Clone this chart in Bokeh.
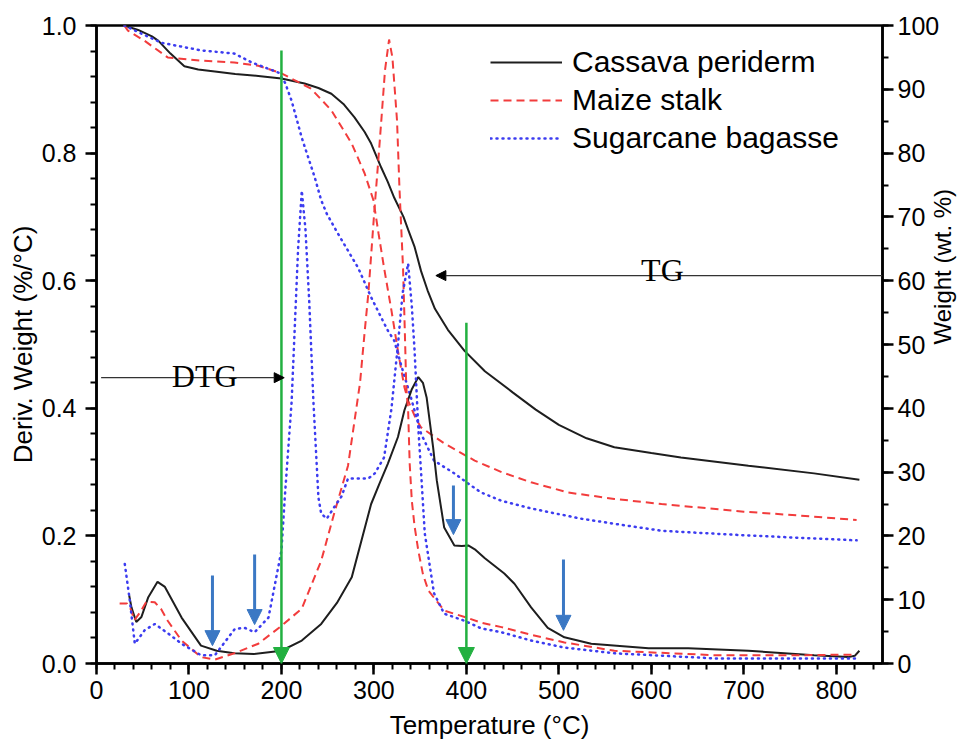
import math
from bokeh.plotting import figure
from bokeh.models import (Range1d, LinearAxis, SingleIntervalTicker, PrintfTickFormatter,
                          Arrow, NormalHead, Label, Legend, LegendItem)
from bokeh.embed import file_html
from bokeh.resources import INLINE

# ---------------- data ----------------
# TG curves (right axis, wt. %)
T_cp_tg = [30, 45, 60, 67, 80, 95, 110, 128, 150, 175, 200, 225, 240, 254, 267, 279, 290, 297, 308, 315,
           322, 332, 337, 344, 351, 358, 366, 380, 398, 420, 450, 475, 500, 530, 560, 600, 632, 705, 776, 825]
W_cp_tg = [100, 99.3, 98.3, 97.6, 95.6, 93.6, 93.1, 92.8, 92.4, 92.1, 91.7, 90.9, 90.2, 89.3, 87.7, 85.6, 83.3, 81.5, 77.7, 75.5,
           73.0, 70.0, 68.0, 65.3, 61.5, 58.5, 55.6, 52.3, 49.0, 45.8, 42.5, 39.8, 37.4, 35.3, 33.9, 33.0, 32.3, 31.0, 29.8, 28.8]

T_ms_tg = [30, 34, 52, 77, 113, 149, 175, 200, 232, 254, 276, 290, 299.5, 305, 311, 319, 326, 333, 337, 345,
           351, 376, 409, 438, 470, 510, 560, 611, 700, 760, 822]
W_ms_tg = [100, 99.2, 97.6, 95.0, 94.5, 94.2, 93.7, 92.5, 90.1, 86.7, 81.5, 76.8, 72.6, 67.4, 62.0, 55.3, 49.0, 43.3, 41.2, 38.5,
           37.0, 34.5, 31.8, 30.0, 28.4, 26.8, 25.8, 25.0, 23.8, 23.2, 22.5]

T_sb_tg = [30, 49, 70, 113, 149, 168, 197, 204, 211, 222, 236, 243, 249, 261, 283, 297, 308, 315, 322, 330,
           340, 351, 365, 387, 402, 416, 438, 470, 524, 560, 611, 700, 760, 822]
W_sb_tg = [100, 98.7, 97.3, 96.1, 95.6, 94.2, 92.6, 91.0, 88.2, 82.4, 76.2, 72.6, 70.5, 67.4, 62.0, 57.4, 54.2, 52.2, 50.6, 46.5,
           41.7, 36.0, 31.8, 29.8, 28.2, 26.8, 25.5, 24.3, 22.7, 21.9, 20.8, 20.1, 19.7, 19.3]

# DTG curves (left axis, %/°C)
T_cp_d = [35.3, 37.8, 43, 48.6, 56, 66, 74, 92, 113, 130, 149, 170, 200, 222, 243, 260, 276, 297, 306, 315,
          326, 333, 341, 348, 353, 357, 364, 368, 376, 387, 395, 402, 410, 420, 441, 452, 470, 488, 506, 535,
          597, 640, 705, 776, 813, 820, 825]
V_cp_d = [0.107, 0.088, 0.065, 0.073, 0.104, 0.128, 0.12, 0.072, 0.028, 0.02, 0.016, 0.015, 0.020, 0.036, 0.062, 0.095, 0.135, 0.25, 0.282, 0.313,
          0.355, 0.397, 0.43, 0.449, 0.44, 0.417, 0.339, 0.287, 0.213, 0.185, 0.184, 0.185, 0.178, 0.165, 0.141, 0.125, 0.088, 0.056, 0.041, 0.031,
          0.024, 0.024, 0.020, 0.013, 0.010, 0.012, 0.020]

T_ms_d = [25, 33, 37, 41, 47, 54, 63, 70, 77, 92, 113, 128, 149, 175, 200, 222, 243, 257, 265, 272,
          279, 285, 290, 294, 300.5, 304.5, 308, 312, 316.4, 320, 325, 327.6, 331.5, 333.5, 335, 337, 338.7, 341, 344, 348,
          353, 359, 376, 402, 416, 438, 470, 506, 560, 668, 760, 822]
V_ms_d = [0.094, 0.094, 0.085, 0.068, 0.08, 0.097, 0.096, 0.085, 0.067, 0.036, 0.010, 0.006, 0.016, 0.031, 0.059, 0.086, 0.161, 0.235, 0.275, 0.31,
          0.38, 0.44, 0.52, 0.58, 0.71, 0.784, 0.851, 0.93, 0.978, 0.95, 0.851, 0.746, 0.62, 0.517, 0.433, 0.397, 0.313, 0.255, 0.215, 0.177,
          0.14, 0.114, 0.083, 0.071, 0.064, 0.057, 0.045, 0.033, 0.020, 0.013, 0.013, 0.014]

T_sb_d = [30.6, 36, 41.4, 52, 63, 77.5, 92, 113, 128, 149.5, 160, 171, 186, 200, 203.6, 211, 218, 222, 226, 230,
          234.6, 240, 243, 249, 257, 265, 272, 283, 294, 301, 311, 319, 326, 331, 337, 341, 344, 348, 351, 355,
          365, 376, 398, 416, 438, 470, 506, 560, 668, 822]
V_sb_d = [0.156, 0.099, 0.031, 0.052, 0.062, 0.047, 0.031, 0.013, 0.013, 0.054, 0.056, 0.049, 0.072, 0.177, 0.26, 0.41, 0.65, 0.741, 0.68, 0.569,
          0.41, 0.26, 0.235, 0.227, 0.245, 0.262, 0.29, 0.29, 0.29, 0.298, 0.323, 0.40, 0.50, 0.58, 0.627, 0.56, 0.49, 0.37, 0.30, 0.204,
          0.11, 0.078, 0.067, 0.055, 0.049, 0.036, 0.025, 0.016, 0.008, 0.008]

series_names = ["Cassava periderm", "Maize stalk", "Sugarcane bagasse"]

# annotation arrows
green_x = [200, 400]
green_top = [0.961, 0.534]
blue_x = [125.4, 171, 386, 505]
blue_top = [0.138, 0.171, 0.279, 0.163]
blue_tip = [0.028, 0.061, 0.202, 0.052]
dtg_arrow = (5, 203, 0.448)
tg_arrow = (850, 367, 0.608)

# ---------------- figure ----------------
BLACK = "#1e1e1e"
RED = "#f23c3c"
BLUE = "#3c3cf0"
GREEN = "#22b040"
ARROWBLUE = "#3b78c4"
FONT = "Liberation Sans"

p = figure(width=972, height=746, x_range=Range1d(0, 850), y_range=Range1d(0, 1),
           output_backend="svg", toolbar_location=None,
           min_border_left=96, min_border_right=90, min_border_top=25, min_border_bottom=83)
p.extra_y_ranges = {"tg": Range1d(0, 100)}
p.grid.visible = False
p.outline_line_color = "black"
p.outline_line_width = 2.5
p.background_fill_color = "white"
p.border_fill_color = "white"


def style_axis(ax):
    ax.axis_line_color = "black"
    ax.axis_line_width = 2.5
    ax.major_tick_line_color = "black"
    ax.minor_tick_line_color = "black"
    ax.major_tick_line_width = 2.5
    ax.minor_tick_line_width = 2
    ax.major_tick_in = 0
    ax.major_tick_out = 11
    ax.minor_tick_in = 0
    ax.minor_tick_out = 6
    ax.major_label_text_font = FONT
    ax.major_label_text_font_size = "25px"
    ax.major_label_text_color = "black"
    ax.major_label_standoff = 8
    ax.axis_label_text_font = FONT
    ax.axis_label_text_font_size = "26px"
    ax.axis_label_text_font_style = "normal"
    ax.axis_label_text_color = "black"


xax = p.xaxis[0]
xax.ticker = SingleIntervalTicker(interval=100, num_minor_ticks=5)
xax.axis_label = "Temperature (°C)"
style_axis(xax)
xax.major_label_standoff = 6
xax.axis_label_standoff = 8

yax = p.yaxis[0]
yax.ticker = SingleIntervalTicker(interval=0.2, num_minor_ticks=5)
yax.formatter = PrintfTickFormatter(format="%.1f")
yax.axis_label = "Deriv. Weight (%/°C)"
style_axis(yax)
yax.major_label_standoff = 9
yax.axis_label_standoff = 1

rax = LinearAxis(y_range_name="tg", ticker=SingleIntervalTicker(interval=10, num_minor_ticks=2))
rax.axis_label = "Weight (wt. %)"
style_axis(rax)
rax.major_label_standoff = 4
rax.axis_label_standoff = 0
rax.axis_label_text_font_size = "24px"
if "axis_label_orientation" in rax.properties():
    rax.axis_label_orientation = math.pi / 2
p.add_layout(rax, "right")

# ---------------- curves ----------------
r_cp = p.line(T_cp_tg, W_cp_tg, y_range_name="tg", line_color=BLACK, line_width=2)
r_ms = p.line(T_ms_tg, W_ms_tg, y_range_name="tg", line_color=RED, line_width=2, line_dash="8 5")
r_sb = p.line(T_sb_tg, W_sb_tg, y_range_name="tg", line_color=BLUE, line_width=2.5, line_dash="1 5",
              line_cap="round")
p.line(T_cp_d, V_cp_d, line_color=BLACK, line_width=2)
p.line(T_ms_d, V_ms_d, line_color=RED, line_width=2, line_dash="8 5")
p.line(T_sb_d, V_sb_d, line_color=BLUE, line_width=2.5, line_dash="1 5", line_cap="round")

# ---------------- arrows ----------------
for gx, gt in zip(green_x, green_top):
    p.add_layout(Arrow(x_start=gx, y_start=gt, x_end=gx, y_end=0, line_color=GREEN, line_width=2.5,
                       end=NormalHead(size=16, fill_color=GREEN, line_color=GREEN)))
for bx, bt, bp in zip(blue_x, blue_top, blue_tip):
    p.add_layout(Arrow(x_start=bx, y_start=bt, x_end=bx, y_end=bp, line_color=ARROWBLUE, line_width=3,
                       end=NormalHead(size=15, fill_color=ARROWBLUE, line_color=ARROWBLUE)))
p.add_layout(Arrow(x_start=dtg_arrow[0], y_start=dtg_arrow[2], x_end=dtg_arrow[1], y_end=dtg_arrow[2],
                   line_color="#333333", line_width=1.3,
                   end=NormalHead(size=10, fill_color="black", line_color="black")))
p.add_layout(Arrow(x_start=tg_arrow[0], y_start=tg_arrow[2], x_end=tg_arrow[1], y_end=tg_arrow[2],
                   line_color="#333333", line_width=1.3,
                   end=NormalHead(size=10, fill_color="black", line_color="black")))

p.add_layout(Label(x=117, y=0.451, text="DTG", text_align="center", text_baseline="alphabetic",
                   text_font="Liberation Serif", text_font_size="32px", text_color="black"))
p.add_layout(Label(x=612, y=0.616, text="TG", text_align="center", text_baseline="alphabetic",
                   text_font="Liberation Serif", text_font_size="32px", text_color="black"))

# ---------------- legend ----------------
legend = Legend(items=[LegendItem(label=series_names[0], renderers=[r_cp]),
                       LegendItem(label=series_names[1], renderers=[r_ms]),
                       LegendItem(label=series_names[2], renderers=[r_sb])],
                location=(394, 508), padding=0, spacing=4, glyph_width=72, glyph_height=30,
                label_height=30, label_standoff=10, border_line_color=None,
                background_fill_alpha=0, label_text_font=FONT, label_text_font_size="30px",
                label_text_color="black")
p.add_layout(legend)

open("out.html", "w").write(file_html(p, INLINE))
